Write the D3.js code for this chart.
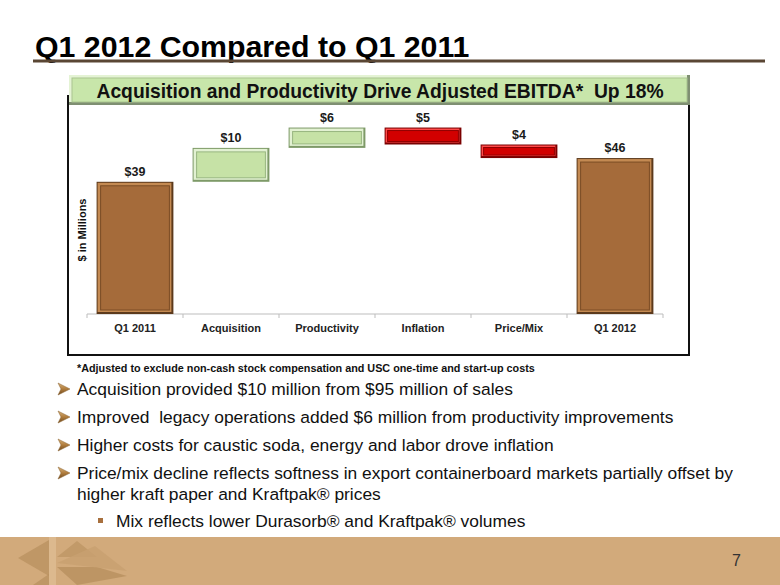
<!DOCTYPE html>
<html><head><meta charset="utf-8">
<script src="https://cdn.jsdelivr.net/npm/d3@7/dist/d3.min.js"></script>
<style>html,body{margin:0;padding:0;background:#fff;}svg{display:block;}text{white-space:pre;}</style>
</head><body>
<svg id="c" width="780" height="585"></svg>
<script>
// ---- data ----
const categories = ["Q1 2011","Acquisition","Productivity","Inflation","Price/Mix","Q1 2012"];
const values = [39, 10, 6, -5, -4, 46];
const kinds = ["total","increase","increase","decrease","decrease","total"];
const valueLabels = ["$39","$10","$6","$5","$4","$46"];
const titleText = "Q1 2012 Compared to Q1 2011";
const bannerText = "Acquisition and Productivity Drive Adjusted EBITDA*\u00A0 Up 18%";
const yAxisLabel = "$ in Millions";
const footnote = "*Adjusted to exclude non-cash stock compensation and USC one-time and start-up costs";
const bullets = [
  ["Acquisition provided $10 million from $95 million of sales"],
  ["Improved\u00A0 legacy operations added $6 million from productivity improvements"],
  ["Higher costs for caustic soda, energy and labor drove inflation"],
  ["Price/mix decline reflects softness in export containerboard markets partially offset by", "higher kraft paper and Kraftpak\u00AE prices"]
];
const subBullets = ["Mix reflects lower Durasorb\u00AE and Kraftpak\u00AE volumes"];
const pageNumber = "7";

// ---- setup ----
const svg = d3.select("#c");
const F = "Arial, 'Liberation Sans', Helvetica, sans-serif";

// title
svg.append("text").attr("x",35).attr("y",57).attr("font-family",F).attr("font-weight","bold")
  .attr("font-size",30.3).attr("fill","#000").text(titleText);
svg.append("rect").attr("x",33).attr("y",59.5).attr("width",732).attr("height",3).attr("fill","#5a4634");

// chart box
svg.append("rect").attr("x",68).attr("y",96).attr("width",621).attr("height",259)
  .attr("fill","#fff").attr("stroke","#111").attr("stroke-width",2);

// banner
const bx=69, by=75, bw=621, bh=30;
svg.append("rect").attr("x",bx).attr("y",by).attr("width",bw).attr("height",bh).attr("fill","#7f8f72");
svg.append("rect").attr("x",bx).attr("y",by).attr("width",bw-3).attr("height",bh-3).attr("fill","#e4f3d4");
svg.append("rect").attr("x",bx+3).attr("y",by+3).attr("width",bw-6).attr("height",bh-6).attr("fill","#c8e6aa")
  .attr("stroke","#a9c48f").attr("stroke-width",1);
svg.append("text").attr("x",380).attr("y",97.5).attr("text-anchor","middle").attr("font-family",F)
  .attr("font-weight","bold").attr("font-size",19.3).attr("fill","#111").text(bannerText);

// scales
const x = d3.scaleBand().domain(categories).range([87,663]).paddingInner(0.2).paddingOuter(0.1);
const y = d3.scaleLinear().domain([0,60]).range([314,314-3.39*60]);

// waterfall data
let run = 0;
const bars = categories.map((c,i)=>{
  let start, end;
  if (kinds[i]==="total"){ start=0; end=values[i]; run=values[i]; }
  else { start=run; end=run+values[i]; run=end; }
  return {c, start, end, kind:kinds[i], label:valueLabels[i]};
});

const colors = {
  total:   {outer:"#5c3a1c", mid:"#c48a52", fill:"#a56b3a", inner:"#7a4c25"},
  increase:{outer:"#7e9a68", mid:"#e2f1d2", fill:"#c6e2a6", inner:"#98b680"},
  decrease:{outer:"#7a0000", mid:"#ff4a4a", fill:"#d20000", inner:"#900000"}
};

// axis
const axisG = svg.append("g").attr("transform","translate(0,314)");
axisG.append("line").attr("x1",87).attr("x2",663).attr("y1",0).attr("y2",0).attr("stroke","#bdbdbd").attr("stroke-width",1);
const bounds = categories.map(c=>x(c)-x.step()*x.paddingInner()/2);
bounds.push(663);
axisG.selectAll("line.tk").data(bounds).join("line").attr("class","tk")
  .attr("x1",d=>d).attr("x2",d=>d).attr("y1",0).attr("y2",4).attr("stroke","#bdbdbd");
axisG.selectAll("text").data(categories).join("text")
  .attr("x",d=>x(d)+x.bandwidth()/2).attr("y",18).attr("text-anchor","middle")
  .attr("font-family",F).attr("font-weight","bold").attr("font-size",11).attr("fill","#222").text(d=>d);

// bars
const g = svg.append("g");
bars.forEach(b=>{
  const top = y(Math.max(b.start,b.end)), bot = y(Math.min(b.start,b.end));
  const x0 = x(b.c), w = x.bandwidth(), h = bot-top;
  const col = colors[b.kind];
  g.append("rect").attr("x",x0).attr("y",top).attr("width",w).attr("height",h).attr("fill",col.outer);
  g.append("rect").attr("x",x0+1).attr("y",top+1).attr("width",w-3).attr("height",h-3).attr("fill",col.mid);
  const ins = h>20?4:3;
  g.append("rect").attr("x",x0+ins).attr("y",top+ins).attr("width",w-2*ins).attr("height",Math.max(h-2*ins,1))
    .attr("fill",col.fill).attr("stroke",col.inner).attr("stroke-width",1);
  g.append("text").attr("x",x0+w/2).attr("y",top-6).attr("text-anchor","middle")
    .attr("font-family",F).attr("font-weight","bold").attr("font-size",12.5).attr("fill","#1a1a1a").text(b.label);
});

// y axis label
svg.append("text").attr("transform","translate(86,230) rotate(-90)").attr("text-anchor","middle")
  .attr("font-family",F).attr("font-weight","bold").attr("font-size",11).attr("fill","#111").text(yAxisLabel);

// footnote
svg.append("text").attr("x",77).attr("y",372).attr("font-family",F).attr("font-weight","bold")
  .attr("font-size",10.8).attr("fill","#111").text(footnote);

// bullets
const defs = svg.append("defs");
const grad = defs.append("linearGradient").attr("id","ag").attr("x1",0).attr("y1",0).attr("x2",0).attr("y2",1);
grad.append("stop").attr("offset","0%").attr("stop-color","#d7b27a");
grad.append("stop").attr("offset","50%").attr("stop-color","#b07c3c");
grad.append("stop").attr("offset","100%").attr("stop-color","#6e4a20");
const baselines = [395, 423, 451, 479];
bullets.forEach((lines,i)=>{
  const bl = baselines[i];
  const cy = bl-6;
  svg.append("path").attr("d",`M58,${cy-6} L70,${cy} L58,${cy+6} L61,${cy} Z`).attr("fill","url(#ag)")
    .attr("stroke","#8a6230").attr("stroke-width",0.5);
  lines.forEach((t,j)=>{
    svg.append("text").attr("x",77).attr("y",bl+j*21).attr("font-family",F).attr("font-size",17.4)
      .attr("fill","#111").text(t);
  });
});
subBullets.forEach((t,i)=>{
  const bl = 527;
  svg.append("rect").attr("x",98).attr("y",bl-9).attr("width",5).attr("height",5).attr("fill","#a8703e");
  svg.append("text").attr("x",116).attr("y",bl).attr("font-family",F).attr("font-size",17.4).attr("fill","#111").text(t);
});

// footer band
svg.append("rect").attr("x",0).attr("y",537).attr("width",780).attr("height",48).attr("fill","#d2aa7b");
const logo = svg.append("g");
logo.append("polygon").attr("points","18,558 49,540 49,576").attr("fill","#b8905f").attr("opacity",0.75);
logo.append("polygon").attr("points","33,585 49,574 49,585").attr("fill","#b8905f").attr("opacity",0.75);
logo.append("polygon").attr("points","57,557 77,541 97,557 77,557").attr("fill","#c29a69");
logo.append("polygon").attr("points","57,567 97,567 127,576 77,585").attr("fill","#b8905f").attr("opacity",0.8);
logo.append("polygon").attr("points","57,563 95,546 127,571").attr("fill","#c8a070").attr("opacity",0.8);
logo.append("rect").attr("x",49).attr("y",537).attr("width",7).attr("height",48).attr("fill","#dcb98e");
svg.append("text").attr("x",741).attr("y",566).attr("text-anchor","end").attr("font-family",F)
  .attr("font-size",16).attr("fill","#333").text(pageNumber);
</script>
</body></html>
